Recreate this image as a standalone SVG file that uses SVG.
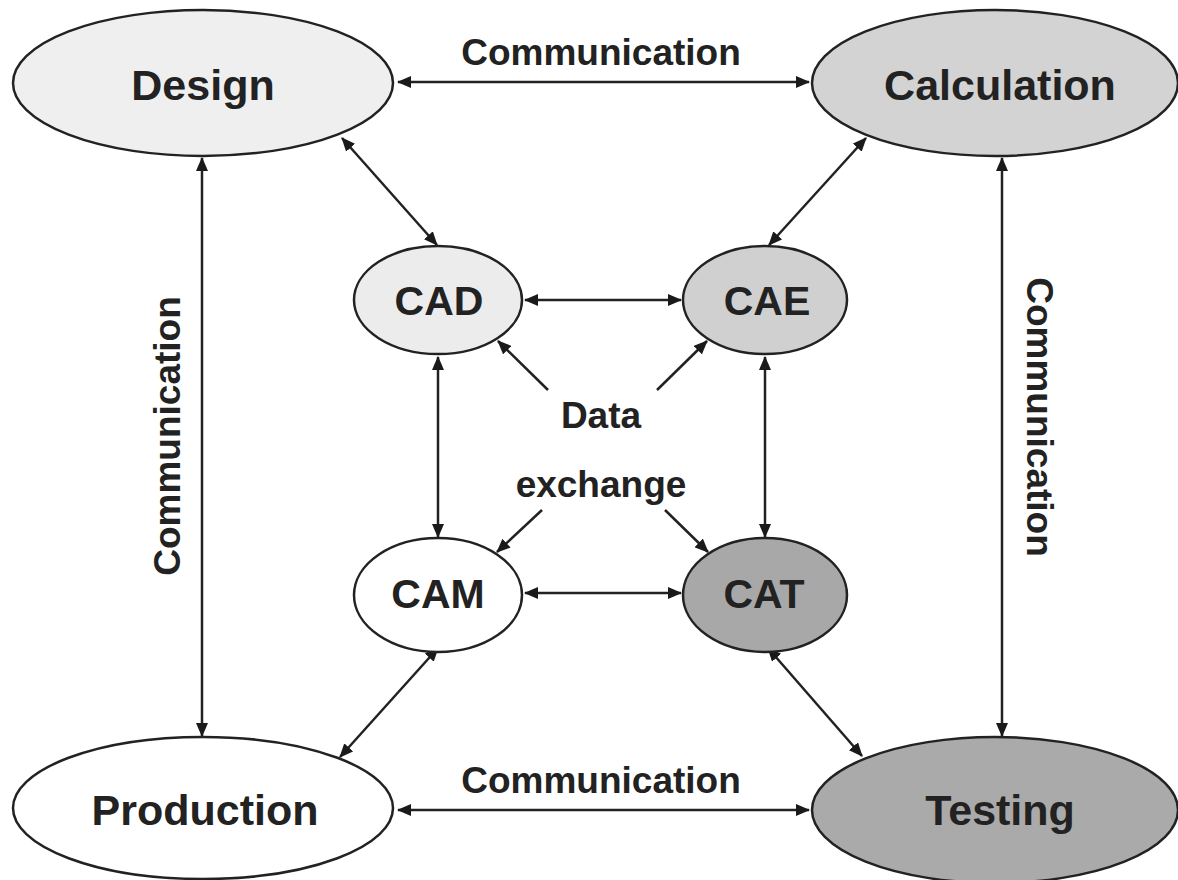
<svg xmlns="http://www.w3.org/2000/svg" width="1178" height="880" viewBox="0 0 1178 880">
<defs>
<marker id="ah" viewBox="0 0 14 12" refX="13" refY="6" markerWidth="14" markerHeight="12" markerUnits="userSpaceOnUse" orient="auto-start-reverse">
<path d="M0,0 L14,6 L0,12 z" fill="#1a1a1a"/>
</marker>
</defs>
<style>
.n{stroke:#222;stroke-width:2.5}
.t{font-family:"Liberation Sans",Arial,sans-serif;font-weight:bold;fill:#222;text-anchor:middle}
.big{font-size:43px}
.mid{font-size:41px}
.lbl{font-size:37px}
.c line{stroke:#222;stroke-width:2.5;marker-start:url(#ah);marker-end:url(#ah)}
.c line.one{marker-start:none}
</style>
<rect width="1178" height="880" fill="#fff"/>
<g class="c" id="connectors">
<line x1="398" y1="82" x2="809" y2="82"/>
<line x1="398" y1="810" x2="809" y2="810"/>
<line x1="202" y1="158" x2="202" y2="736"/>
<line x1="1002" y1="158" x2="1002" y2="736"/>
<line x1="342" y1="138" x2="437" y2="245"/>
<line x1="866" y1="138" x2="769" y2="245"/>
<line x1="525" y1="300" x2="681" y2="300"/>
<line x1="525" y1="593" x2="681" y2="593"/>
<line x1="438" y1="357" x2="438" y2="537"/>
<line x1="765" y1="357" x2="765" y2="537"/>
<line x1="438" y1="648" x2="340" y2="757"/>
<line x1="768" y1="648" x2="862" y2="756"/>
<line class="one" x1="548" y1="390" x2="498" y2="341"/>
<line class="one" x1="657" y1="390" x2="707" y2="341"/>
<line class="one" x1="542" y1="510" x2="497" y2="552"/>
<line class="one" x1="665" y1="510" x2="708" y2="552"/>
</g>
<g id="labels">
<text class="t lbl" x="601" y="65">Communication</text>
<text class="t lbl" x="601" y="793">Communication</text>
<text class="t lbl" transform="translate(180,436) rotate(-90)">Communication</text>
<text class="t lbl" transform="translate(1027,417) rotate(90)">Communication</text>
<text class="t lbl" x="601" y="428">Data</text>
<text class="t lbl" x="601" y="497">exchange</text>
</g>
<g id="design"><ellipse class="n" cx="203" cy="83" rx="190" ry="73" fill="#efefef"/><text class="t big" x="203" y="100">Design</text></g>
<g id="calculation"><ellipse class="n" cx="995" cy="83" rx="183" ry="73" fill="#d3d3d3"/><text class="t big" x="1000" y="100">Calculation</text></g>
<g id="production"><ellipse class="n" cx="203" cy="808" rx="190" ry="71" fill="#fff"/><text class="t big" x="205" y="825">Production</text></g>
<g id="testing"><ellipse class="n" cx="995" cy="810" rx="183" ry="73" fill="#aaaaaa"/><text class="t big" x="1000" y="825">Testing</text></g>
<g id="cad"><ellipse class="n" cx="438" cy="300" rx="84" ry="54" fill="#ececec"/><text class="t mid" x="439" y="315">CAD</text></g>
<g id="cae"><ellipse class="n" cx="765" cy="300" rx="82" ry="54" fill="#d0d0d0"/><text class="t mid" x="767" y="315">CAE</text></g>
<g id="cam"><ellipse class="n" cx="438" cy="595" rx="84" ry="57" fill="#fff"/><text class="t mid" x="438" y="608">CAM</text></g>
<g id="cat"><ellipse class="n" cx="765" cy="595" rx="82" ry="57" fill="#a8a8a8"/><text class="t mid" x="764" y="608">CAT</text></g>
</svg>
